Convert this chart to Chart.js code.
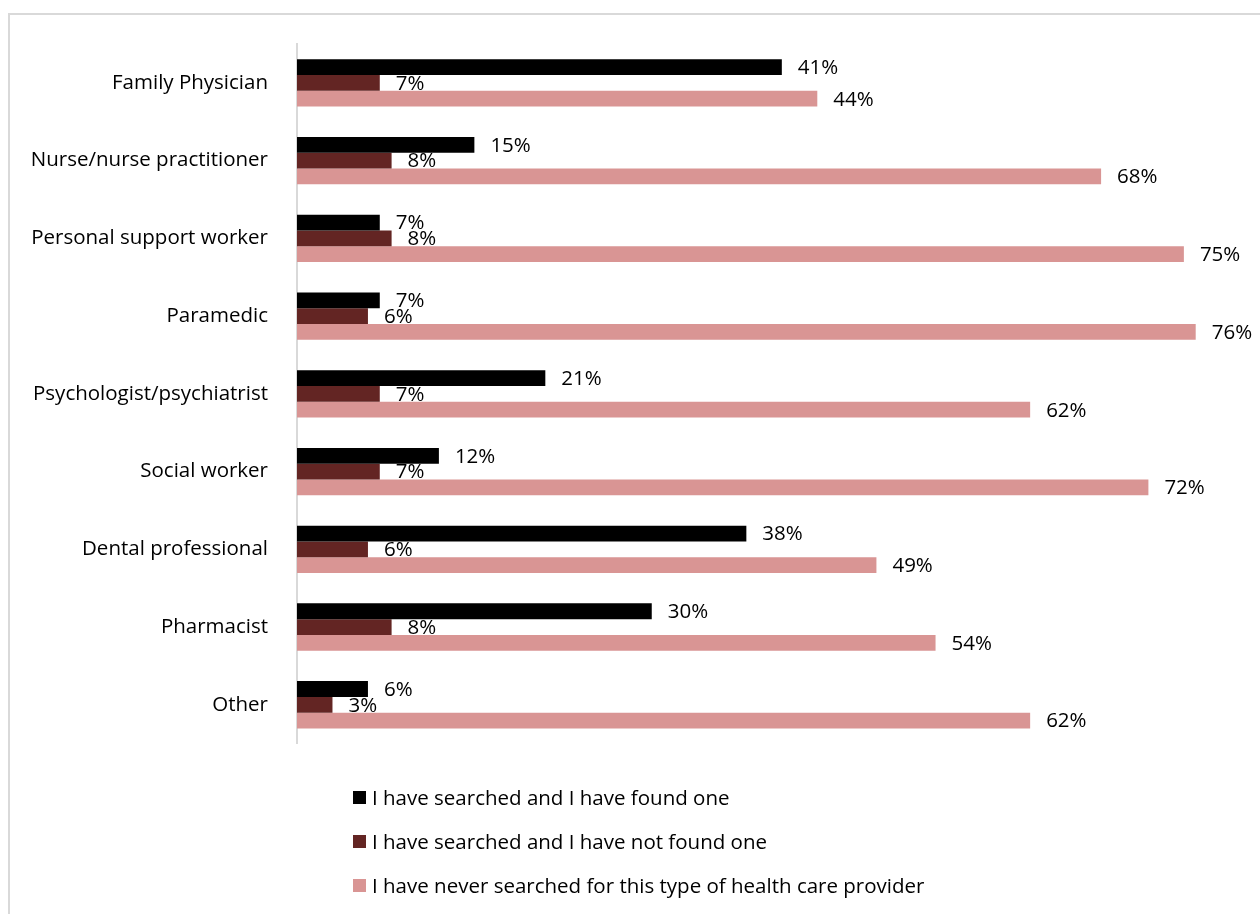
<!DOCTYPE html>
<html>
<head>
<meta charset="utf-8">
<script src="https://cdn.jsdelivr.net/npm/chart.js@4"></script>
<style>
    body { margin: 0; background: #fff; font-family: 'Open Sans', sans-serif; }
    #frame { position: absolute; left: 8px; top: 13px; width: 1300px; height: 1000px; border: 2px solid #d9d9d9; }
    #chart { position: absolute; left: 0; top: 0; }
    #legend { position: absolute; left: 353px; top: 785px; }
    .legend-item { display: flex; align-items: center; height: 24px; margin-bottom: 20px; font-size: 20.5px; color: #000; }
    .legend-box { width: 13px; height: 13px; margin-right: 6px; }
</style>
</head>
<body>
<div id="frame"></div>
<canvas id="chart" width="1260" height="785"></canvas>
<div id="legend"></div>
<script>
const categories = ['Family Physician', 'Nurse/nurse practitioner', 'Personal support worker', 'Paramedic',
    'Psychologist/psychiatrist', 'Social worker', 'Dental professional', 'Pharmacist', 'Other'];
const foundOne = [41, 15, 7, 7, 21, 12, 38, 30, 6];
const notFoundOne = [7, 8, 8, 6, 7, 7, 6, 8, 3];
const neverSearched = [44, 68, 75, 76, 62, 72, 49, 54, 62];
const seriesNames = ['I have searched and I have found one', 'I have searched and I have not found one',
    'I have never searched for this type of health care provider'];
const seriesColors = ['#000000', '#632523', '#d99594'];

const FONT = '"Open Sans", sans-serif';
const FONT_SIZE = 20.5;

// draws the "41%" style labels next to each bar
const valueLabels = {
    id: 'valueLabels',
    afterDatasetsDraw(chart) {
        const ctx = chart.ctx;
        ctx.save();
        ctx.font = FONT_SIZE + 'px ' + FONT;
        ctx.fillStyle = '#000';
        ctx.textAlign = 'left';
        ctx.textBaseline = 'middle';
        chart.data.datasets.forEach((ds, i) => {
            chart.getDatasetMeta(i).data.forEach((bar, j) => {
                ctx.fillText(ds.data[j] + '%', bar.x + 16, bar.y + 1);
            });
        });
        ctx.restore();
    }
};

const datasets = [foundOne, notFoundOne, neverSearched].map((values, i) => ({
    label: seriesNames[i],
    data: values,
    backgroundColor: seriesColors[i],
    borderWidth: 0,
    categoryPercentage: 0.61,
    barPercentage: 1.0
}));

new Chart(document.getElementById('chart'), {
    type: 'bar',
    data: { labels: categories, datasets: datasets },
    options: {
        indexAxis: 'y',
        responsive: false,
        animation: false,
        layout: { padding: { top: 44, bottom: 16, right: 17, left: 0 } },
        scales: {
            x: { display: false, min: 0, max: 80 },
            y: {
                grid: { display: false, drawTicks: false },
                border: { display: true, color: '#d9d9d9', width: 2 },
                ticks: { color: '#000', padding: 29, font: { family: FONT, size: FONT_SIZE } },
                afterFit(scale) { scale.width = 297; }
            }
        },
        plugins: {
            legend: { display: false },
            tooltip: { enabled: false }
        }
    },
    plugins: [valueLabels]
});

const legendEl = document.getElementById('legend');
seriesNames.forEach((name, i) => {
    const item = document.createElement('div');
    item.className = 'legend-item';
    item.innerHTML = `<span class="legend-box" style="background:${seriesColors[i]}"></span><span>${name}</span>`;
    legendEl.appendChild(item);
});
</script>
</body>
</html>
